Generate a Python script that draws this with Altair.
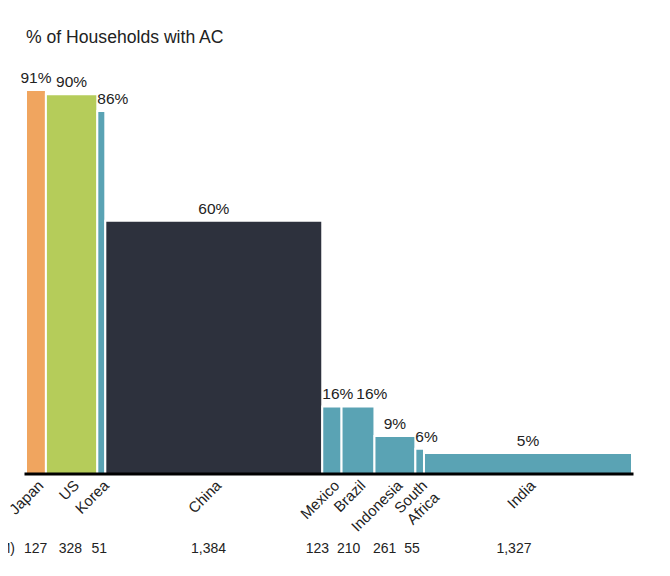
import altair as alt
import pandas as pd

# ---- data ----
countries = ["Japan", "US", "Korea", "China", "Mexico", "Brazil", "Indonesia", "South\nAfrica", "India"]
population_m = [127, 328, 51, 1384, 123, 210, 261, 55, 1327]
pct_with_ac = [91, 90, 86, 60, 16, 16, 9, 6, 5]
bar_colors = ["#F0A55F", "#B5CC5A", "#5AA3B4", "#2D313D", "#5AA3B4",
              "#5AA3B4", "#5AA3B4", "#5AA3B4", "#5AA3B4"]

FONT = "Liberation Sans"
W, H = 606, 422
VAL_FS = 15.5
POP_FS = 14
total = sum(population_m)
px = W / total

starts, ends, acc = [], [], 0
for p in population_m:
    starts.append(acc)
    acc += p
    ends.append(acc)
mids = [(s + e) / 2 for s, e in zip(starts, ends)]
value_labels = [f"{v}%" for v in pct_with_ac]


def text_w(s, fs):
    w = 0.0
    for c in s:
        w += 0.889 if c == "%" else (0.278 if c == "," else 0.556)
    return w * fs


# place value labels: centred, unless they would sit on a taller neighbour
# or collide with the previous label at about the same height
label_left = []
prev_right = None
for i, lab in enumerate(value_labels):
    w = text_w(lab, VAL_FS)
    left = mids[i] * px - w / 2
    if i > 0 and pct_with_ac[i - 1] > pct_with_ac[i] and left < starts[i] * px:
        left = starts[i] * px
    if i > 0 and abs(pct_with_ac[i - 1] - pct_with_ac[i]) < 5 and left < prev_right + 3:
        left = prev_right + 3
    label_left.append(left / px)
    prev_right = left + w

# population row: on a slightly narrower band, spread apart where crowded
pop_texts = [f"{p:,}" for p in population_m]
pop_px = [m * px * 0.972 for m in mids]
for i in range(1, len(pop_px)):
    wl = text_w(pop_texts[i - 1], POP_FS)
    wr = text_w(pop_texts[i], POP_FS)
    gap = (pop_px[i] - wr / 2) - (pop_px[i - 1] + wl / 2)
    if gap < 8:
        if population_m[i] < population_m[i - 1]:
            pop_px[i] += 8 - gap
        else:
            pop_px[i - 1] -= 8 - gap
pop_x = [v / px for v in pop_px]

df = pd.DataFrame({
    "country": countries,
    "pop": population_m,
    "pct": pct_with_ac,
    "start": starts,
    "end": ends,
    "mid": mids,
    "label": value_labels,
    "label_x": label_left,
    "pop_x": pop_x,
})

xs = alt.Scale(domain=[0, total], range=[0, W], nice=False, zero=False)
ys = alt.Scale(domain=[0, 100], range=[H, 0], nice=False)
cs = alt.Scale(domain=countries, range=bar_colors)

base = alt.Chart(df)

bars = base.mark_rect(stroke="white", strokeWidth=2).encode(
    x=alt.X("start:Q", scale=xs, axis=None),
    x2="end:Q",
    y=alt.Y("pct:Q", scale=ys, axis=None),
    y2=alt.datum(0),
    color=alt.Color("country:N", scale=cs, legend=None),
)

baseline = alt.Chart(pd.DataFrame({"a": [0]})).mark_rule(
    color="black", strokeWidth=3, strokeCap="square"
).encode(
    x=alt.datum(0, scale=xs, axis=None),
    x2=alt.datum(total),
    y=alt.datum(0, scale=ys, axis=None),
)

values = base.mark_text(
    align="left", baseline="alphabetic", dy=-7, font=FONT, fontSize=VAL_FS, color="#222222"
).encode(
    x=alt.X("label_x:Q", scale=xs, axis=None),
    y=alt.Y("pct:Q", scale=ys, axis=None),
    text="label:N",
)

names = base.mark_text(
    align="right", baseline="top", angle=315, font=FONT, fontSize=15,
    color="#222222", lineBreak="\n", lineHeight=17
).encode(
    x=alt.X("mid:Q", scale=xs, axis=None),
    y=alt.value(H + 4),
    text="country:N",
)

pops = base.mark_text(
    align="center", baseline="middle", font=FONT, fontSize=POP_FS, color="#222222"
).encode(
    x=alt.X("pop_x:Q", scale=xs, axis=None),
    y=alt.value(H + 75),
    text=alt.Text("pop:Q", format=","),
)

pop_title = alt.Chart(pd.DataFrame({"t": ["Population (M)"]})).mark_text(
    align="right", baseline="middle", font=FONT, fontSize=POP_FS, color="#222222"
).encode(
    x=alt.value(-11),
    y=alt.value(H + 75),
    text="t:N",
)

chart = alt.layer(bars, baseline, values, names, pops, pop_title).properties(
    width=W,
    height=H,
    title=alt.TitleParams(
        "% of Households with AC", anchor="start", frame="group",
        font=FONT, fontSize=17.6, fontWeight="normal", color="#222222", offset=5
    ),
    autosize=alt.AutoSizeParams(type="none"),
    padding={"left": 18, "top": 44, "right": 26, "bottom": 90},
).configure_view(stroke=None)

chart.save("out.html", embed_options={"renderer": "svg", "actions": False})
